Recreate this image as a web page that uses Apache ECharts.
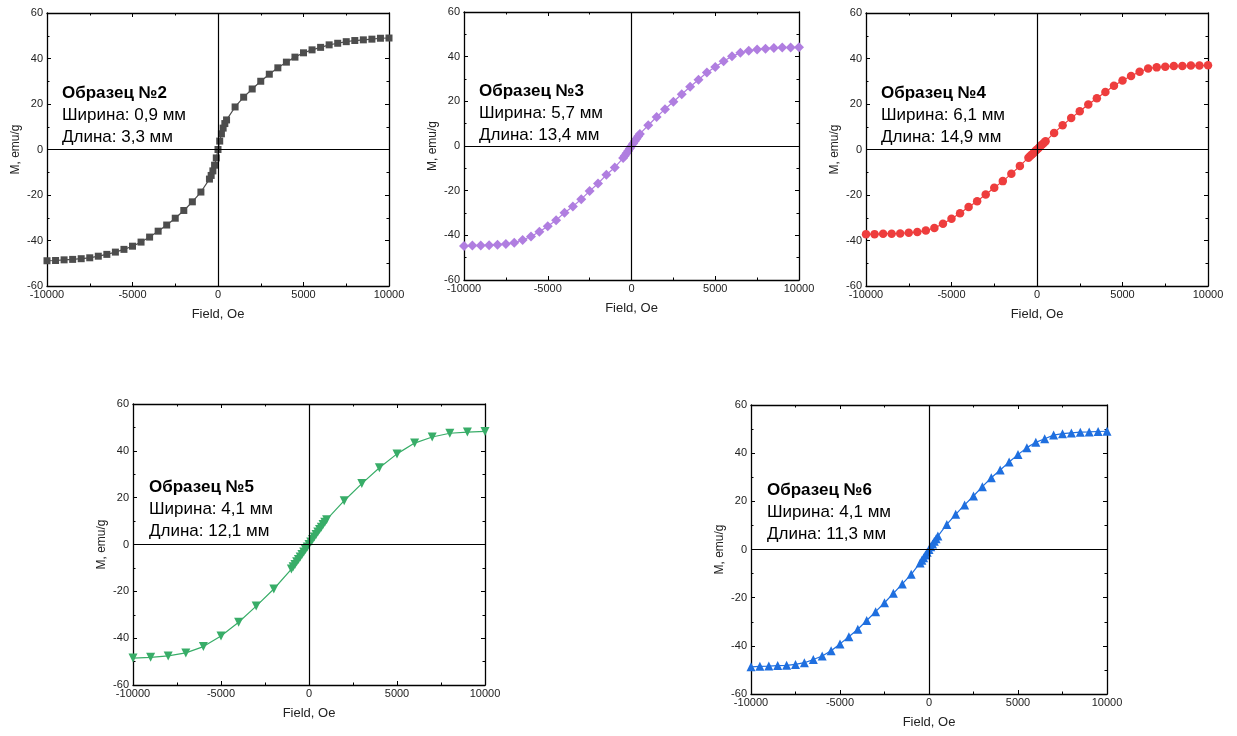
<!DOCTYPE html>
<html>
<head>
<meta charset="utf-8">
<script src="https://cdn.jsdelivr.net/npm/echarts@6/dist/echarts.min.js"></script>
<style>
  html, body { margin: 0; padding: 0; background: #fff; }
  #chart { width: 1237px; height: 736px; }
</style>
</head>
<body>
<div id="chart"></div>
<script>
// Field steps: 500 Oe outside +-1000, 100 Oe in the centre
const fieldA = [
  -10000, -9500, -9000, -8500, -8000, -7500, -7000, -6500, -6000, -5500,
  -5000, -4500, -4000, -3500, -3000, -2500, -2000, -1500, -1000,
  -500, -400, -300, -200, -100, 0, 100, 200, 300, 400, 500,
  1000, 1500, 2000, 2500, 3000, 3500, 4000, 4500, 5000, 5500,
  6000, 6500, 7000, 7500, 8000, 8500, 9000, 9500, 10000,
];
// sample 5 was measured with 1000 Oe steps
const fieldB = [
  -10000, -9000, -8000, -7000, -6000, -5000, -4000, -3000, -2000, -1000,
  -900, -800, -700, -600, -500, -400, -300, -200, -100, 0,
  100, 200, 300, 400, 500, 600, 700, 800, 900,
  1000, 2000, 3000, 4000, 5000, 6000, 7000, 8000, 9000, 10000,
];

const moment2 = [
  -48.9, -48.8, -48.5, -48.3, -48.0, -47.6, -46.9, -46.1, -45.1, -43.9,
  -42.5, -40.7, -38.5, -35.9, -33.2, -30.2, -26.8, -23.0, -18.7,
  -13.0, -11.4, -9.4, -6.9, -3.7, 0, 3.7, 6.9, 9.4, 11.4, 13.0,
  18.7, 23.0, 26.6, 30.0, 33.1, 35.9, 38.4, 40.6, 42.5, 43.8,
  44.9, 46.0, 46.7, 47.4, 47.9, 48.2, 48.5, 48.9, 49.0,
];
const moment3 = [
  -44.8, -44.6, -44.5, -44.4, -44.2, -43.9, -43.3, -42.1, -40.5, -38.4,
  -35.9, -33.2, -29.9, -27.1, -23.8, -20.2, -16.8, -12.9, -9.6,
  -5.4, -4.4, -3.3, -2.2, -1.1, 0, 1.1, 2.2, 3.3, 4.4, 5.4,
  9.3, 13.0, 16.5, 19.8, 23.2, 26.5, 29.7, 32.9, 35.4, 37.9,
  40.2, 41.7, 42.6, 43.2, 43.6, 43.9, 44.1, 44.1, 44.2,
];
const moment4 = [
  -37.2, -37.2, -37.0, -37.0, -36.9, -36.6, -36.3, -35.6, -34.5, -32.6,
  -30.4, -28.0, -25.3, -22.7, -19.8, -16.8, -13.9, -10.7, -7.2,
  -3.6, -2.9, -2.2, -1.5, -0.7, 0, 0.7, 1.5, 2.2, 2.9, 3.6,
  7.3, 10.7, 13.8, 16.8, 19.8, 22.5, 25.3, 28.0, 30.3, 32.3,
  34.2, 35.6, 36.1, 36.4, 36.7, 36.7, 36.9, 36.9, 37.0,
];
const moment5 = [
  -48.5, -48.2, -47.6, -46.3, -43.6, -39.1, -33.2, -26.3, -19.0, -10.5,
  -9.5, -8.5, -7.4, -6.4, -5.3, -4.3, -3.2, -2.1, -1.1, 0,
  1.1, 2.1, 3.2, 4.3, 5.3, 6.4, 7.4, 8.5, 9.5,
  10.6, 18.7, 26.0, 32.8, 38.7, 43.3, 45.9, 47.5, 48.0, 48.3,
];
const moment6 = [
  -48.7, -48.5, -48.4, -48.2, -48.1, -47.7, -47.0, -45.7, -44.2, -42.0,
  -39.2, -36.2, -33.1, -29.5, -25.8, -22.1, -18.2, -14.3, -10.3,
  -5.6, -4.5, -3.4, -2.3, -1.1, 0, 1.1, 2.3, 3.4, 4.5, 5.6,
  10.4, 14.6, 18.5, 22.2, 26.1, 29.8, 33.0, 36.3, 39.4, 42.3,
  44.5, 46.0, 47.5, 48.1, 48.4, 48.7, 48.8, 49.0, 49.1,
];

const sampleNames = ["Образец №2", "Образец №3", "Образец №4", "Образец №5", "Образец №6"];
const sampleWidths = ["Ширина: 0,9 мм", "Ширина: 5,7 мм", "Ширина: 6,1 мм", "Ширина: 4,1 мм", "Ширина: 4,1 мм"];
const sampleLengths = ["Длина: 3,3 мм", "Длина: 13,4 мм", "Длина: 14,9 мм", "Длина: 12,1 мм", "Длина: 11,3 мм"];

const FONT = "'Liberation Sans', Arial, sans-serif";

const panels = [
  { grid: { left: 47, top: 13, width: 342, height: 273 }, x: fieldA, y: moment2,
    color: "#4d4d4d", symbol: "rect", size: 7, rotate: 0, label: [62, 82] },
  { grid: { left: 464, top: 12, width: 335, height: 268 }, x: fieldA, y: moment3,
    color: "#b07ee0", symbol: "diamond", size: 10, rotate: 0, label: [479, 80] },
  { grid: { left: 866, top: 13, width: 342, height: 273 }, x: fieldA, y: moment4,
    color: "#ee3d3d", symbol: "circle", size: 8.5, rotate: 0, label: [881, 82] },
  { grid: { left: 133, top: 404, width: 352, height: 281 }, x: fieldB, y: moment5,
    color: "#38ad68", symbol: "triangle", size: 9, rotate: 180, label: [149, 476] },
  { grid: { left: 751, top: 405, width: 356, height: 289 }, x: fieldA, y: moment6,
    color: "#1f6fdf", symbol: "triangle", size: 9, rotate: 0, label: [767, 479] },
];

function makeXAxis(i, pos) {
  let main = pos === "bottom";
  return {
    gridIndex: i, type: "value", position: pos,
    min: -10000, max: 10000, interval: 5000,
    name: main ? "Field, Oe" : "", nameLocation: "middle", nameGap: 22,
    nameTextStyle: { fontFamily: FONT, fontSize: 13, color: "#222" },
    axisLine: { show: true, onZero: false, lineStyle: { color: "#000", width: 1.3 } },
    axisTick: { show: true, inside: true, length: 4, lineStyle: { color: "#000" } },
    minorTick: { show: true, splitNumber: 2, length: 2.5, lineStyle: { color: "#000" } },
    axisLabel: {
      show: main, margin: 3, fontFamily: FONT, fontSize: 11, color: "#222",
      formatter: (v) => String(v),
    },
    splitLine: { show: false },
  };
}

function makeYAxis(i, pos) {
  let main = pos === "left";
  return {
    gridIndex: i, type: "value", position: pos,
    min: -60, max: 60, interval: 20,
    name: main ? "M, emu/g" : "", nameLocation: "middle", nameGap: 25,
    nameTextStyle: { fontFamily: FONT, fontSize: 12, color: "#222" },
    axisLine: { show: true, onZero: false, lineStyle: { color: "#000", width: 1.3 } },
    axisTick: { show: true, inside: true, length: 4, lineStyle: { color: "#000" } },
    minorTick: { show: true, splitNumber: 2, length: 2.5, lineStyle: { color: "#000" } },
    axisLabel: {
      show: main, margin: 4, fontFamily: FONT, fontSize: 11, color: "#222",
      formatter: (v) => String(v),
    },
    splitLine: { show: false },
  };
}

let option = {
  backgroundColor: "#fff",
  animation: false,
  grid: [],
  xAxis: [],
  yAxis: [],
  title: [],
  series: [],
};

panels.forEach((p, i) => {
  option.grid.push(p.grid);
  option.xAxis.push(makeXAxis(i, "bottom"));
  option.yAxis.push(makeYAxis(i, "left"));
  option.title.push({
    left: p.label[0], top: p.label[1], padding: 0,
    text: "{b|" + sampleNames[i] + "}\n{n|" + sampleWidths[i] + "}\n{n|" + sampleLengths[i] + "}",
    textStyle: {
      fontWeight: "normal",
      rich: {
        b: { fontFamily: FONT, fontSize: 17, fontWeight: "bold", color: "#000", lineHeight: 22 },
        n: { fontFamily: FONT, fontSize: 17, fontWeight: "normal", color: "#000", lineHeight: 22 },
      },
    },
  });
  option.series.push({
    type: "line",
    xAxisIndex: i, yAxisIndex: i,
    data: p.x.map((v, k) => [v, p.y[k]]),
    symbol: p.symbol, symbolSize: p.size, symbolRotate: p.rotate,
    showAllSymbol: true,
    lineStyle: { color: p.color, width: 1.2 },
    itemStyle: { color: p.color },
    markLine: {
      silent: true, symbol: "none", animation: false,
      label: { show: false },
      lineStyle: { color: "#000", type: "solid", width: 1.2 },
      data: [{ xAxis: 0 }, { yAxis: 0 }],
    },
    z: 3,
  });
});

// mirrored frame axes on top and right, no labels
panels.forEach((p, i) => {
  option.xAxis.push(makeXAxis(i, "top"));
  option.yAxis.push(makeYAxis(i, "right"));
});

let chart = echarts.init(document.getElementById("chart"));
chart.setOption(option);
</script>
</body>
</html>
